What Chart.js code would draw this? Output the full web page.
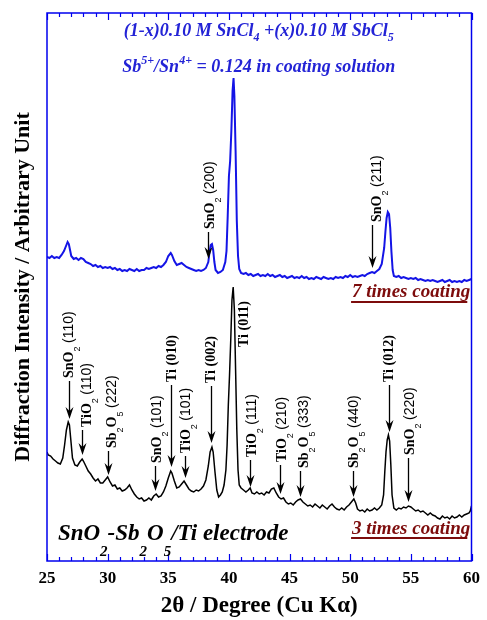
<!DOCTYPE html>
<html><head><meta charset="utf-8">
<script src="https://cdn.jsdelivr.net/npm/chart.js@4.4.0/dist/chart.umd.min.js"></script>
<style>html,body{margin:0;padding:0;background:#fff;}canvas{display:block;}</style>
</head><body>
<canvas id="c" width="487" height="620" style="width:487px;height:620px"></canvas>
<script>
// ---------- DATA (2theta in degrees, intensity in arbitrary units) ----------
const xTickValues = [25, 30, 35, 40, 45, 50, 55, 60];

// 7 times coating (blue, upper trace)
const sevenTimes = [
[25.0,304],[25.2,303],[25.4,305],[25.6,303],[25.8,304],[26.0,303],[26.2,306],[26.4,310],[26.6,316],[26.7,319],[26.8,317],[26.9,311],[27.0,305],[27.2,302],[27.4,303],[27.6,301],[27.8,303],[28.0,302],[28.2,299],[28.4,298],[28.6,297],[28.8,295],[29.0,296],[29.2,294],[29.4,295],[29.6,293],[29.8,294],[30.0,293],[30.2,294],[30.4,292],[30.6,293],[30.8,291],[31.0,292],[31.2,290],[31.4,291],[31.6,290],[31.8,292],[32.0,291],[32.2,290],[32.4,292],[32.6,290],[32.8,291],[33.0,291],[33.2,293],[33.4,292],[33.6,293],[33.8,294],[34.0,293],[34.2,295],[34.4,294],[34.6,296],[34.8,299],[35.0,305],[35.2,308],[35.3,306],[35.5,300],[35.7,296],[35.9,297],[36.1,298],[36.3,296],[36.5,294],[36.7,293],[36.9,292],[37.1,291],[37.3,290],[37.5,291],[37.7,290],[37.9,291],[38.1,293],[38.3,299],[38.4,309],[38.5,316],[38.6,317],[38.7,311],[38.8,299],[38.9,291],[39.1,288],[39.3,289],[39.5,291],[39.7,299],[39.8,310],[39.9,345],[40.0,385],[40.1,400],[40.2,430],[40.3,470],[40.38,483],[40.45,465],[40.55,410],[40.65,340],[40.75,305],[40.85,292],[41.0,288],[41.2,287],[41.4,288],[41.6,286],[41.8,287],[42.0,285],[42.2,286],[42.4,287],[42.6,285],[42.8,286],[43.0,285],[43.2,287],[43.4,285],[43.6,286],[43.8,284],[44.0,285],[44.2,286],[44.4,284],[44.6,285],[44.8,283],[45.0,284],[45.2,285],[45.4,283],[45.6,284],[45.8,283],[46.0,285],[46.2,283],[46.4,284],[46.6,282],[46.8,283],[47.0,282],[47.2,284],[47.4,283],[47.6,282],[47.8,284],[48.0,283],[48.2,282],[48.4,283],[48.6,282],[48.8,284],[49.0,283],[49.2,284],[49.4,283],[49.6,285],[49.8,284],[50.0,286],[50.2,284],[50.4,285],[50.6,284],[50.8,285],[51.0,286],[51.2,285],[51.4,287],[51.6,288],[51.8,289],[52.0,288],[52.2,290],[52.4,292],[52.6,297],[52.8,313],[52.9,329],[53.0,343],[53.1,349],[53.2,347],[53.3,333],[53.4,309],[53.5,291],[53.6,285],[53.8,284],[54.0,285],[54.2,283],[54.4,284],[54.6,283],[54.8,282],[55.0,283],[55.2,282],[55.4,283],[55.6,281],[55.8,282],[56.0,281],[56.2,280],[56.4,281],[56.6,280],[56.8,281],[57.0,280],[57.2,279],[57.4,280],[57.6,281],[57.8,279],[58.0,280],[58.2,281],[58.4,279],[58.6,280],[58.8,279],[59.0,280],[59.2,279],[59.4,281],[59.6,280],[59.8,281],[60.0,282]
];

// 3 times coating (black, lower trace)
const threeTimes = [
[25.0,109],[25.1,106],[25.3,105],[25.5,102],[25.7,100],[25.9,98],[26.1,97],[26.3,103],[26.45,116],[26.6,131],[26.75,139],[26.85,136],[26.95,123],[27.1,103],[27.3,96],[27.5,95],[27.7,99],[27.9,102],[28.0,100],[28.2,95],[28.4,90],[28.6,87],[28.8,83],[29.0,80],[29.2,82],[29.4,78],[29.6,78],[29.8,81],[30.0,84],[30.2,79],[30.4,75],[30.6,76],[30.8,72],[31.0,73],[31.2,70],[31.4,71],[31.6,73],[31.8,76],[32.0,71],[32.2,67],[32.4,64],[32.6,62],[32.8,63],[33.0,60],[33.2,61],[33.4,63],[33.6,61],[33.8,65],[34.0,67],[34.2,64],[34.4,65],[34.6,69],[34.8,75],[35.0,83],[35.2,90],[35.3,88],[35.5,80],[35.7,73],[35.9,74],[36.1,77],[36.3,80],[36.5,76],[36.7,72],[36.9,70],[37.1,69],[37.3,71],[37.5,70],[37.7,72],[37.9,75],[38.1,81],[38.3,95],[38.45,109],[38.6,114],[38.7,109],[38.85,89],[39.0,71],[39.15,64],[39.3,66],[39.45,69],[39.6,76],[39.75,91],[39.85,116],[39.95,156],[40.05,186],[40.15,221],[40.25,261],[40.35,274],[40.45,251],[40.55,191],[40.65,131],[40.75,91],[40.85,76],[41.0,73],[41.2,71],[41.4,69],[41.6,71],[41.75,73],[41.9,68],[42.1,67],[42.3,69],[42.5,67],[42.7,68],[42.9,66],[43.1,69],[43.3,68],[43.5,72],[43.7,73],[43.9,68],[44.1,64],[44.3,62],[44.5,63],[44.7,59],[44.9,57],[45.1,58],[45.3,56],[45.5,59],[45.7,61],[45.9,62],[46.1,59],[46.3,57],[46.5,55],[46.7,56],[46.9,54],[47.1,57],[47.3,55],[47.5,53],[47.7,56],[47.9,54],[48.1,52],[48.3,55],[48.5,57],[48.7,54],[48.9,52],[49.1,51],[49.3,53],[49.5,51],[49.7,54],[49.9,56],[50.1,59],[50.3,62],[50.45,58],[50.6,52],[50.8,50],[51.0,51],[51.2,49],[51.4,52],[51.6,50],[51.8,51],[52.0,53],[52.2,51],[52.4,53],[52.6,56],[52.75,66],[52.85,89],[52.95,109],[53.05,121],[53.15,126],[53.25,120],[53.35,96],[53.45,66],[53.6,53],[53.8,51],[54.0,53],[54.2,52],[54.4,54],[54.6,53],[54.8,55],[55.0,54],[55.2,52],[55.4,50],[55.6,51],[55.8,49],[56.0,50],[56.2,48],[56.4,46],[56.6,48],[56.8,46],[57.0,45],[57.2,43],[57.4,42],[57.6,45],[57.8,43],[58.0,44],[58.2,42],[58.4,45],[58.6,43],[58.8,44],[59.0,46],[59.2,44],[59.4,46],[59.6,47],[59.8,48],[59.9,50],[60.0,55]
];

// Peak assignments
const peakNames  = ['SnO_2 (110)','TiO_2 (110)','Sb_2O_5 (222)','SnO_2 (101)','Ti (010)','TiO_2 (101)','Ti (002)','Ti (011)','TiO_2 (111)','TiO_2 (210)','Sb_2O_5 (333)','Sb_2O_5 (440)','Ti (012)','SnO_2 (220)','SnO_2 (200)','SnO_2 (211)'];
const peakAngles = [26.8, 27.9, 30.0, 33.9, 35.2, 36.35, 38.55, null, 41.72, 44.17, 45.87, 50.26, 53.18, 54.8, 38.24, 51.8];

// ---------- LAYOUT (label placement in data units) ----------
const labelX    = [26.8, 28.25, 30.28, 34.0, 35.23, 36.45, 38.48, 41.24, 41.9, 44.33, 46.11, 50.26, 53.18, 54.88, 38.4, 52.2];
const labelBase = [183, 134, 113, 98, 179, 108, 178, 214, 104, 99, 93, 93, 179, 106, 332, 339];
const arrowTip  = [142, 106, 86, 70, 94, 83, 118, null, 74, 67, 64, 64, 129, 59, 302, 293];

// ---------- STYLE ----------
const BLUE = '#1414e6', FRAME = '#0000ee', TITLEBLUE = '#2323d6', DARKRED = '#7d0c0c';
const SERIF = '"Liberation Serif","Times New Roman",serif';
const SANS = '"Liberation Sans",Arial,sans-serif';
const F_FORM = 'bold 14px ' + SERIF, F_SUB = '9px ' + SANS, F_IDX = '14px ' + SANS;

function segWidth(ctx, segs){ let w=0; for(const s of segs){ ctx.font=s.font; w+=ctx.measureText(s.t).width; } return w; }
function drawSegs(ctx, segs, x, y, align){
  const w = segWidth(ctx, segs);
  let cx = align==='center' ? x-w/2 : align==='right' ? x-w : x;
  for(const s of segs){ ctx.font=s.font; ctx.fillText(s.t, cx, y+(s.dy||0)); cx += ctx.measureText(s.t).width; }
  return w;
}
function peakSegs(name){
  const sp = name.indexOf(' ');
  const formula = name.slice(0, sp), idx = name.slice(sp+1);
  const segs = [];
  const re = /([A-Za-z]+)|_(\d)/g; let m;
  while((m = re.exec(formula))){
    if(m[1]) segs.push({t:m[1], font:F_FORM});
    else segs.push({t:m[2], font:F_SUB, dy:7});
  }
  const isTi = formula === 'Ti';
  segs.push({t:' ', font:F_FORM});
  segs.push({t:idx, font: isTi ? F_FORM : F_IDX});
  return segs;
}

const decor = {
  id:'decor',
  afterDatasetsDraw(chart){
    const {ctx, chartArea:a, scales:{x, y}} = chart;
    ctx.save();
    // frame
    ctx.strokeStyle = FRAME; ctx.lineWidth = 1.5;
    ctx.strokeRect(a.left, a.top, a.right-a.left, a.bottom-a.top);
    // inward ticks top & bottom
    ctx.lineWidth = 1.2;
    for(let v=25; v<=60; v++){
      const px = Math.round(x.getPixelForValue(v))+0.5;
      const len = v%5===0 ? 7 : 4;
      ctx.beginPath();
      ctx.moveTo(px, a.bottom); ctx.lineTo(px, a.bottom-len);
      ctx.moveTo(px, a.top); ctx.lineTo(px, a.top+len);
      ctx.stroke();
    }
    // peak labels + arrows
    ctx.fillStyle = '#000'; ctx.strokeStyle = '#000'; ctx.textBaseline = 'alphabetic';
    peakNames.forEach((name, i) => {
      const tx = x.getPixelForValue(labelX[i]);
      const by = y.getPixelForValue(labelBase[i]);
      ctx.save();
      ctx.translate(tx, by);
      ctx.rotate(-Math.PI/2);
      drawSegs(ctx, peakSegs(name), 0, 4.5, 'left');
      ctx.restore();
      if(peakAngles[i] !== null && arrowTip[i] !== null){
        const ax = Math.round(x.getPixelForValue(peakAngles[i]))+0.5;
        const ty = y.getPixelForValue(arrowTip[i]);
        ctx.lineWidth = 1.3;
        ctx.beginPath(); ctx.moveTo(ax, by+3); ctx.lineTo(ax, ty-6); ctx.stroke();
        ctx.beginPath();
        ctx.moveTo(ax, ty); ctx.lineTo(ax-4, ty-12); ctx.lineTo(ax, ty-8); ctx.lineTo(ax+4, ty-12); ctx.closePath();
        ctx.fill();
      }
    });
    // titles (blue)
    ctx.fillStyle = TITLEBLUE;
    const tf = 'italic bold 18px ' + SERIF, ts = 'italic bold 12px ' + SERIF;
    const cx = x.getPixelForValue(42.46);
    drawSegs(ctx, [{t:'(1-x)0.10 M SnCl',font:tf},{t:'4',font:ts,dy:5},{t:' +(x)0.10 M SbCl',font:tf},{t:'5',font:ts,dy:5}], cx, y.getPixelForValue(525), 'center');
    drawSegs(ctx, [{t:'Sb',font:tf},{t:'5+',font:ts,dy:-8},{t:'/Sn',font:tf},{t:'4+',font:ts,dy:-8},{t:' = 0.124 in coating solution',font:tf}], cx, y.getPixelForValue(489), 'center');
    // coating labels (dark red, underlined)
    ctx.fillStyle = DARKRED; ctx.strokeStyle = DARKRED; ctx.lineWidth = 2;
    const cf = 'italic bold 19px ' + SERIF;
    [['7 times coating', 264, 259], ['3 times coating', 27, 23]].forEach(([t, b, u]) => {
      const rx = x.getPixelForValue(59.9);
      const w = drawSegs(ctx, [{t, font:cf}], rx, y.getPixelForValue(b), 'right');
      const uy = y.getPixelForValue(u);
      ctx.beginPath(); ctx.moveTo(rx-w-1, uy); ctx.lineTo(rx-3, uy); ctx.stroke();
    });
    // electrode label
    ctx.fillStyle = '#000';
    const ef = 'italic bold 23px ' + SERIF, es = 'italic bold 15px ' + SERIF;
    drawSegs(ctx, [{t:'SnO',font:ef},{t:'2',font:es,dy:16},{t:'-Sb',font:ef},{t:'2',font:es,dy:16},{t:'O',font:ef},{t:'5',font:es,dy:16},{t:'/Ti electrode',font:ef}], x.getPixelForValue(25.9), y.getPixelForValue(21), 'left');
    ctx.restore();
  }
};

new Chart(document.getElementById('c'), {
  type: 'scatter',
  data: { datasets: [
    { label:'7 times coating', data: sevenTimes.map(p => ({x:p[0], y:p[1]})), showLine:true, borderColor:BLUE, borderWidth:2, pointRadius:0, tension:0 },
    { label:'3 times coating', data: threeTimes.map(p => ({x:p[0], y:p[1]})), showLine:true, borderColor:'#000', borderWidth:1.5, pointRadius:0, tension:0 }
  ]},
  options: {
    responsive:false, animation:false, devicePixelRatio:1,
    layout:{ padding:{ top:13, right:9, left:0, bottom:0 } },
    plugins:{ legend:{display:false}, tooltip:{enabled:false} },
    scales:{
      x:{ type:'linear', min:25, max:60,
          afterBuildTicks: s => { s.ticks = xTickValues.map(v => ({value:v})); },
          ticks:{ font:{family:SERIF, weight:'bold', size:17}, color:'#000', padding:7, autoSkip:false, maxRotation:0 },
          grid:{ display:false, drawTicks:false }, border:{ display:false },
          title:{ display:true, text:'2θ / Degree (Cu Kα)', color:'#000', font:{family:SERIF, weight:'bold', size:23}, padding:{top:0, bottom:0} },
          afterFit: s => { s.height = 59; } },
      y:{ min:0, max:548,
          ticks:{ display:false }, grid:{ display:false, drawTicks:false }, border:{ display:false },
          title:{ display:true, text:'Diffraction Intensity / Arbitrary Unit', color:'#000', font:{family:SERIF, weight:'bold', size:22}, padding:{top:10, bottom:0} },
          afterFit: s => { s.width = 47; } }
    }
  },
  plugins:[decor]
});
</script>
</body></html>
